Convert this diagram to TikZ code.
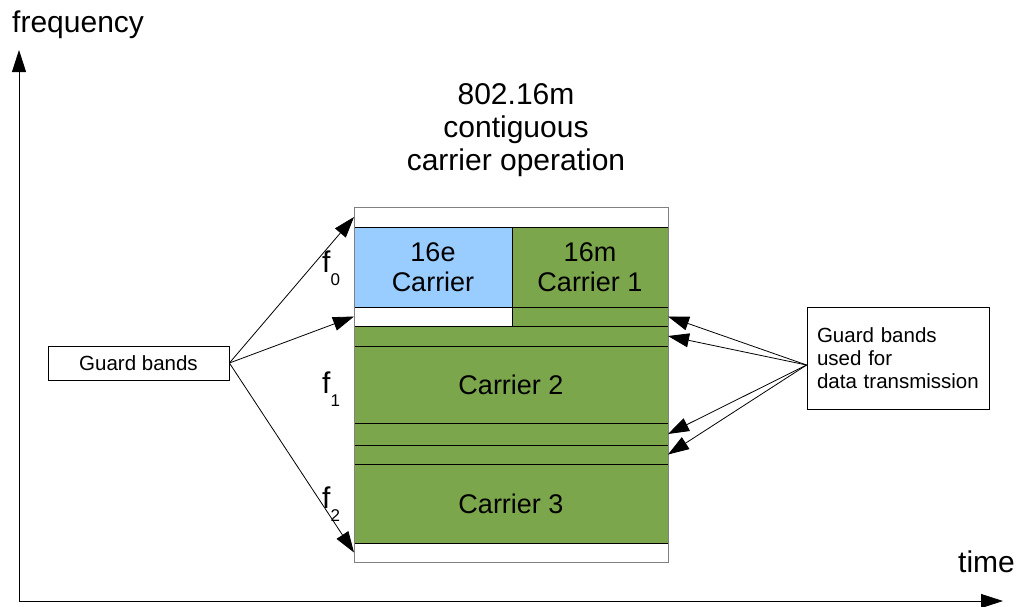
\documentclass[tikz,border=0pt]{standalone}
\usepackage{fontspec}
\setmainfont{Liberation Sans}
\usetikzlibrary{arrows.meta}
\definecolor{cgreen}{HTML}{7BA64B}
\definecolor{cblue}{HTML}{99CCFF}
\begin{document}
\begin{tikzpicture}[x=1pt,y=-1pt,
  cell/.style={draw=black, line width=0.9pt, anchor=north west, inner sep=0pt, outer sep=0pt},
  cfont/.style={font=\fontsize{27}{30}\selectfont},
  garrow/.style={-{Triangle[length=21pt,width=14pt]}, line width=0.8pt},
  axisarrow/.style={-{Triangle[length=22pt,width=14pt]}, line width=0.9pt},
  axislabel/.style={anchor=base west, inner sep=0pt, font=\fontsize{30}{30}\selectfont},
  flabel/.style={anchor=base west, inner sep=0pt, font=\fontsize{30}{30}\selectfont},
  smallbox/.style={draw=black, line width=0.8pt, fill=white, font=\fontsize{20.5}{23}\selectfont}
]
\useasboundingbox (0,0) rectangle (1025,606);

% axes
\coordinate (o) at (19,601);
\coordinate (ytip) at (19,50);
\coordinate (xtip) at (1003,601);
\draw[axisarrow] (o) -- (ytip);
\draw[axisarrow] (o) -- (xtip);
\node[axislabel] (freq) at (12,32) {frequency};
\node[axislabel] (time) at (958,572) {time};

% title
\node[align=center, font=\fontsize{30}{33}\selectfont] (title) at (516,130) {802.16m\\contiguous\\carrier operation};

% block
\node[cell, fill=white, minimum width=314pt, minimum height=20pt] (gtop) at (354,207) {};
\node[cell, cfont, fill=cblue, minimum width=158pt, minimum height=80pt, align=center] (c16e) at (354,227) {16e\\Carrier};
\node[cell, cfont, fill=cgreen, minimum width=156pt, minimum height=80pt, align=center] (c16m) at (512,227) {16m\\Carrier 1};
\node[cell, fill=white, minimum width=158pt, minimum height=19pt] (g1) at (354,307) {};
\node[cell, fill=cgreen, minimum width=156pt, minimum height=19pt] (b0) at (512,307) {};
\node[cell, fill=cgreen, minimum width=314pt, minimum height=20pt] (b1) at (354,326) {};
\node[cell, cfont, fill=cgreen, minimum width=314pt, minimum height=77pt] (c2) at (354,346) {Carrier 2};
\node[cell, fill=cgreen, minimum width=314pt, minimum height=22pt] (b2) at (354,423) {};
\node[cell, fill=cgreen, minimum width=314pt, minimum height=19pt] (b3) at (354,445) {};
\node[cell, cfont, fill=cgreen, minimum width=314pt, minimum height=79pt] (c3) at (354,464) {Carrier 3};
\node[cell, fill=white, minimum width=314pt, minimum height=19pt] (gbot) at (354,543) {};
\draw[gray, line width=1pt] (gtop.north west) rectangle (gbot.south east);

% f labels
\node[flabel] (f0) at (322,272) {f\raisebox{-13pt}{\fontsize{17}{17}\selectfont 0}};
\node[flabel] (f1) at (322,393) {f\raisebox{-13pt}{\fontsize{17}{17}\selectfont 1}};
\node[flabel] (f2) at (322,508) {f\raisebox{-13pt}{\fontsize{17}{17}\selectfont 2}};

% left guard box
\node[smallbox, minimum width=181pt, minimum height=34pt] (gb) at (138.5,363) {Guard bands};
\draw[garrow] (gb.east) -- (gtop.west);
\draw[garrow] (gb.east) -- (g1.west);
\draw[garrow] (gb.east) -- (gbot.west);

% right box
\node[smallbox, minimum width=182pt, minimum height=102pt, align=left, text width=162pt, inner xsep=10pt] (rb) at (898,358) {Guard bands\\used for\\data transmission};
\coordinate (rbo) at ([yshift=-7pt]rb.west);
\draw[garrow] (rbo) -- (b0.east);
\draw[garrow] (rbo) -- (b1.east);
\draw[garrow] (rbo) -- (b2.east);
\draw[garrow] (rbo) -- (b3.east);
\end{tikzpicture}
\end{document}
